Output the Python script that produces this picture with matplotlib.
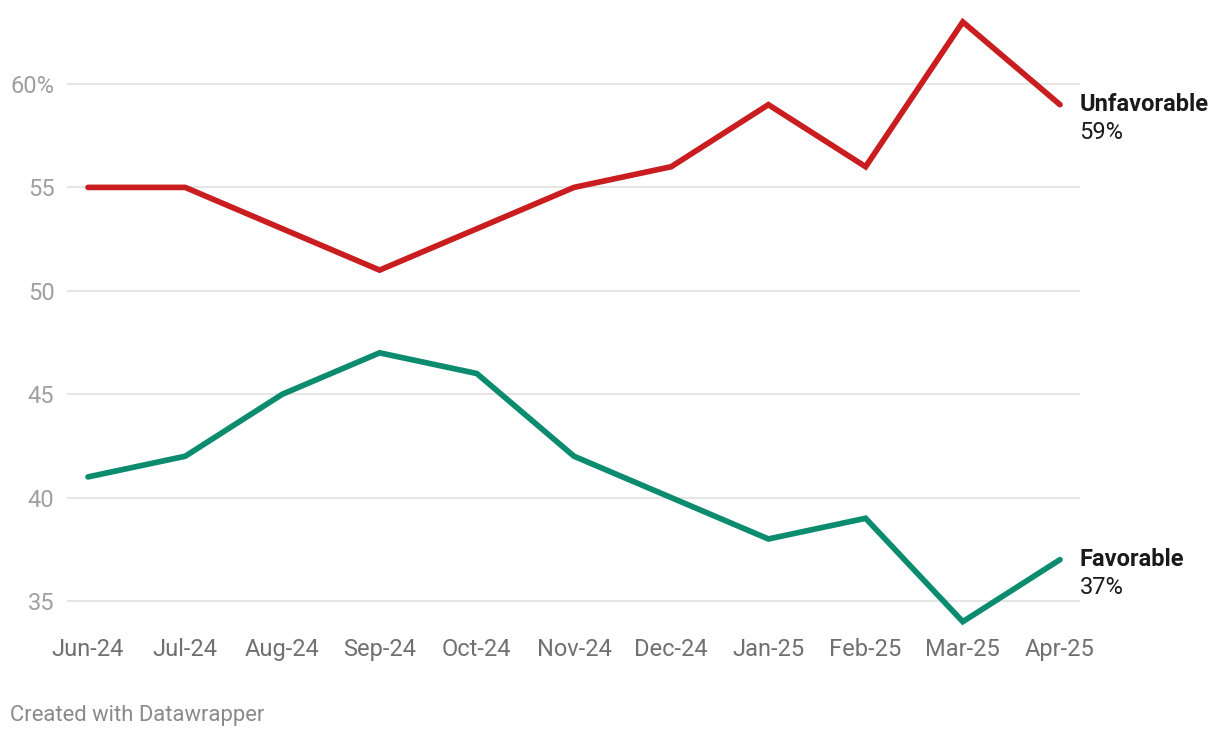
import matplotlib.pyplot as plt

months = ['Jun-24', 'Jul-24', 'Aug-24', 'Sep-24', 'Oct-24', 'Nov-24',
          'Dec-24', 'Jan-25', 'Feb-25', 'Mar-25', 'Apr-25']
unfavorable = [55, 55, 53, 51, 53, 55, 56, 59, 56, 63, 59]
favorable = [41, 42, 45, 47, 46, 42, 40, 38, 39, 34, 37]
y_ticks = [35, 40, 45, 50, 55, 60]
y_labels = ['35', '40', '45', '50', '55', '60%']

plt.rcParams['font.family'] = ['Roboto', 'DejaVu Sans']

W, H = 1220, 738
fig = plt.figure(figsize=(W / 100, H / 100), dpi=100)
# axes placed in pixel terms: x 67..1080, y 15..630
ax = fig.add_axes([67 / W, 1 - 630 / H, (1080 - 67) / W, 615 / H])

px_x = 10 / 972
ax.set_xlim(-21 * px_x, 10 + 20 * px_x)
px_y = 25 / 517
ax.set_ylim(35 - (630 - 601) * px_y, 60 + (84 - 15) * px_y)

red = '#c91d1f'
green = '#0b8c6f'
x = list(range(len(months)))
ax.plot(x, unfavorable, color=red, lw=4.1, solid_capstyle='round',
        solid_joinstyle='miter', clip_on=False, zorder=3)
ax.plot(x, favorable, color=green, lw=4.1, solid_capstyle='round',
        solid_joinstyle='miter', clip_on=False, zorder=3)

for y in y_ticks:
    ax.axhline(y, color='#e3e3e3', lw=1.3, zorder=1)

for s in ax.spines.values():
    s.set_visible(False)
ax.set_yticks(y_ticks)
ax.set_yticklabels(y_labels)
ax.set_xticks(x)
ax.set_xticklabels(months)
ax.tick_params(axis='y', length=0, pad=9, labelsize=17, labelcolor='#a0a0a0')
ax.tick_params(axis='x', length=0, pad=6, labelsize=17, labelcolor='#707070')

# end labels
fs = 17
ax.annotate('Unfavorable', (x[-1], unfavorable[-1]), xytext=(14, 0),
            textcoords='offset points', fontsize=fs, fontweight='bold',
            color='#1a1a1a', va='center', ha='left', annotation_clip=False)
ax.annotate(f'{unfavorable[-1]}%', (x[-1], unfavorable[-1]), xytext=(14, -20),
            textcoords='offset points', fontsize=fs,
            color='#1a1a1a', va='center', ha='left', annotation_clip=False)
ax.annotate('Favorable', (x[-1], favorable[-1]), xytext=(14, 0),
            textcoords='offset points', fontsize=fs, fontweight='bold',
            color='#1a1a1a', va='center', ha='left', annotation_clip=False)
ax.annotate(f'{favorable[-1]}%', (x[-1], favorable[-1]), xytext=(14, -20),
            textcoords='offset points', fontsize=fs,
            color='#1a1a1a', va='center', ha='left', annotation_clip=False)

fig.text(10 / W, 1 - 715 / H, 'Created with Datawrapper', fontsize=15.8,
         color='#8a8a8a', va='center', ha='left')

fig.savefig('out.png', dpi=100)
